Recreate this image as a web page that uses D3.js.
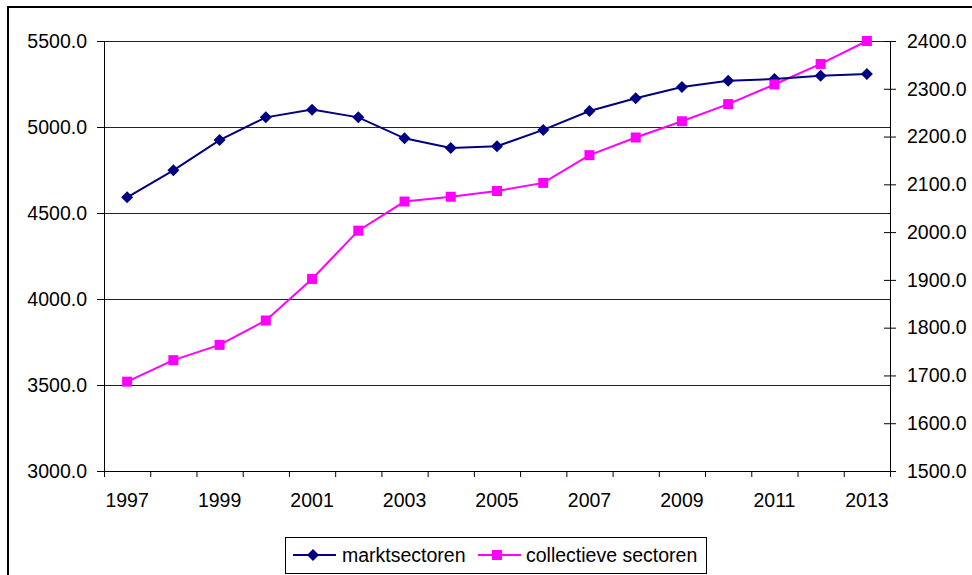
<!DOCTYPE html>
<html><head><meta charset="utf-8">
<script src="https://cdn.jsdelivr.net/npm/d3@7"></script>
<style>
body{margin:0;background:#fff;}
svg{display:block;font-family:"Liberation Sans",Arial,sans-serif;}
</style></head>
<body>
<svg id="chart" width="972" height="575"></svg>
<script>
const years = [1997,1998,1999,2000,2001,2002,2003,2004,2005,2006,2007,2008,2009,2010,2011,2012,2013];
const yearLabels = [1997,1999,2001,2003,2005,2007,2009,2011,2013];
const marktsectoren = [4591,4748,4924,5056,5101,5056,4934,4878,4888,4983,5093,5167,5233,5269,5279,5298,5308];
const collectieve = [1687,1732,1764,1815,1902,2003,2064,2074,2086,2103,2161,2198,2232,2268,2309,2352,2400];
const leftTicks = [3000,3500,4000,4500,5000,5500];
const rightTicks = [1500,1600,1700,1800,1900,2000,2100,2200,2300,2400];
const seriesNames = ["marktsectoren","collectieve sectoren"];

const svg = d3.select("#chart");
const L = 104, R = 890, T = 41, B = 471;
const fs = "19.5px";

// outer border
svg.append("path").attr("d",`M8,575 V7 H972`).attr("fill","none").attr("stroke","#000").attr("stroke-width",2);

const x = d3.scaleBand().domain(years).range([L,R]).padding(0);
const xEdge = d3.scaleLinear().domain([0,years.length]).range([L,R]);
const yL = d3.scaleLinear().domain([3000,5500]).range([B,T]);
const yR = d3.scaleLinear().domain([1500,2400]).range([B,T]);

// gridlines
svg.append("g").selectAll("line").data(leftTicks.slice(1)).join("line")
  .attr("x1",L).attr("x2",R).attr("y1",d=>Math.round(yL(d))+0.5).attr("y2",d=>Math.round(yL(d))+0.5)
  .attr("stroke","#222").attr("stroke-width",1);

// left axis
const gl = svg.append("g").attr("transform",`translate(${L},0)`)
  .call(d3.axisLeft(yL).tickValues(leftTicks).tickFormat(d3.format(".1f")).tickSize(7).tickPadding(10).tickSizeOuter(0));
gl.selectAll("text").attr("font-size",fs).attr("fill","#000").attr("font-family","Liberation Sans, Arial, sans-serif");
gl.selectAll("line,path").attr("stroke","#000");

// right axis
const gr = svg.append("g").attr("transform",`translate(${R},0)`)
  .call(d3.axisRight(yR).tickValues(rightTicks).tickFormat(d3.format(".1f")).tickSize(5).tickPadding(12).tickSizeOuter(0));
gr.selectAll(".tick line").attr("x1",-6).attr("x2",6);
gr.selectAll("text").attr("font-size",fs).attr("fill","#000").attr("font-family","Liberation Sans, Arial, sans-serif");
gr.selectAll("line,path").attr("stroke","#000");

// bottom axis: ticks at category edges
const gb = svg.append("g").attr("transform",`translate(0,${B})`)
  .call(d3.axisBottom(xEdge).tickValues(d3.range(0,years.length+1)).tickSize(6).tickFormat("").tickSizeOuter(0));
gb.selectAll("line,path").attr("stroke","#000");
// bottom labels
const gbl = svg.append("g").attr("transform",`translate(0,${B})`)
  .call(d3.axisBottom(x).tickValues(yearLabels).tickSize(0).tickPadding(22));
gbl.select(".domain").remove();
gbl.selectAll("text").attr("font-size",fs).attr("fill","#000").attr("font-family","Liberation Sans, Arial, sans-serif");

const cx = d => x(d) + x.bandwidth()/2;

// lines
const lineL = d3.line().x((d,i)=>cx(years[i])).y(d=>yL(d));
const lineR = d3.line().x((d,i)=>cx(years[i])).y(d=>yR(d));
svg.append("path").attr("d",lineR(collectieve)).attr("fill","none").attr("stroke","#ff00ff").attr("stroke-width",2);
svg.append("path").attr("d",lineL(marktsectoren)).attr("fill","none").attr("stroke","#000080").attr("stroke-width",2);

svg.append("g").selectAll("path").data(marktsectoren).join("path")
  .attr("d",d3.symbol().type(d3.symbolSquare).size(72))
  .attr("transform",(d,i)=>`translate(${cx(years[i])},${yL(d)}) rotate(45)`)
  .attr("fill","#000080");
svg.append("g").selectAll("rect").data(collectieve).join("rect")
  .attr("x",(d,i)=>cx(years[i])-5).attr("y",d=>yR(d)-5).attr("width",10).attr("height",10)
  .attr("fill","#ff00ff");

// legend
const lg = svg.append("g");
lg.append("rect").attr("x",285.5).attr("y",537.5).attr("width",421).attr("height",36)
  .attr("fill","#fff").attr("stroke","#000").attr("stroke-width",1);
const ly = 555;
lg.append("line").attr("x1",293).attr("x2",336).attr("y1",ly).attr("y2",ly).attr("stroke","#000080").attr("stroke-width",2);
lg.append("path").attr("d",d3.symbol().type(d3.symbolSquare).size(72)).attr("transform",`translate(313,${ly}) rotate(45)`).attr("fill","#000080");
lg.append("text").attr("x",342).attr("y",ly).attr("dy","0.35em").attr("font-size",fs).text(seriesNames[0]);
lg.append("line").attr("x1",478).attr("x2",521).attr("y1",ly).attr("y2",ly).attr("stroke","#ff00ff").attr("stroke-width",2);
lg.append("rect").attr("x",492).attr("y",ly-5).attr("width",10).attr("height",10).attr("fill","#ff00ff");
lg.append("text").attr("x",526).attr("y",ly).attr("dy","0.35em").attr("font-size",fs).text(seriesNames[1]);
</script>
</body></html>
